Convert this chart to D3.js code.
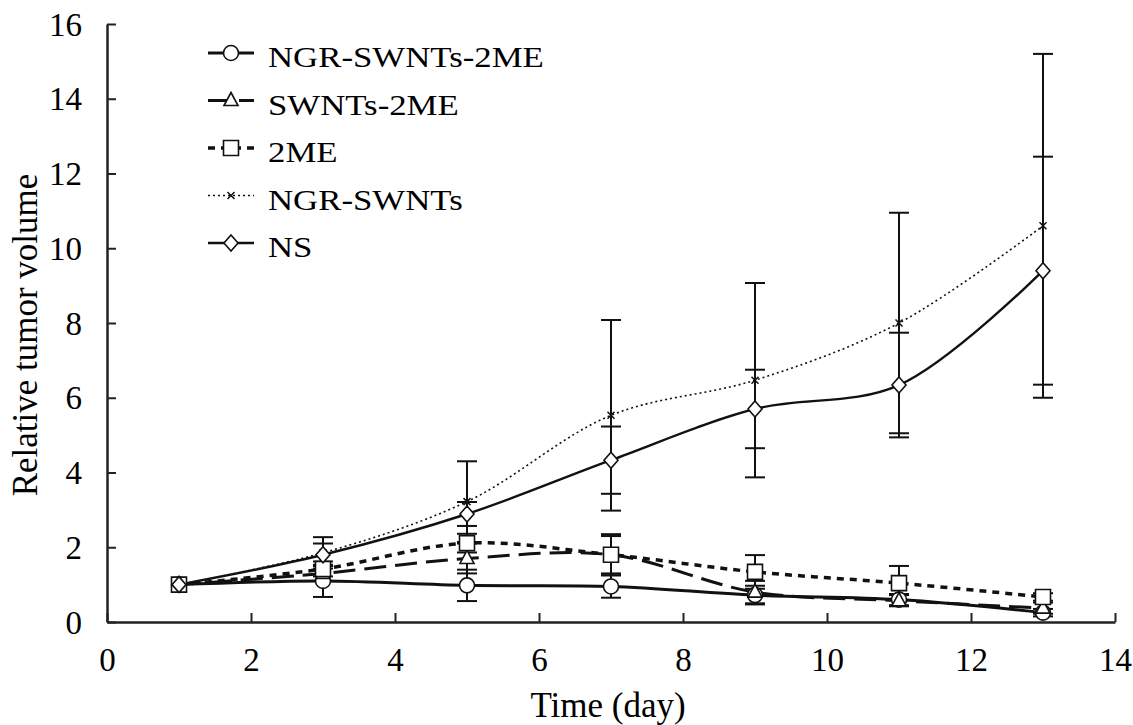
<!DOCTYPE html>
<html>
<head>
<meta charset="utf-8">
<title>Relative tumor volume</title>
<script src="https://d3js.org/d3.v7.min.js"></script>
<style>
  body { margin: 0; background: #fff; }
</style>
</head>
<body>
<div id="chart"></div>
<script>
// data
var days = [1, 3, 5, 7, 9, 11, 13];
var seriesNames = ["NGR-SWNTs-2ME", "SWNTs-2ME", "2ME", "NGR-SWNTs", "NS"];
var ngrSwnts2me = [1.0, 1.1, 0.98, 0.95, 0.72, 0.6, 0.25];
var ngrSwnts2meErr = [0, 0.43, 0.42, 0.3, 0.25, 0.15, 0.1];
var swnts2me = [1.0, 1.3, 1.7, 1.8, 0.8, 0.57, 0.37];
var swnts2meErr = [0, 0.2, 0.4, 0.5, 0.3, 0.15, 0.15];
var me2 = [1.0, 1.42, 2.11, 1.8, 1.34, 1.04, 0.67];
var me2Err = [0, 0.2, 0.25, 0.55, 0.45, 0.46, 0.1];
var ngrSwnts = [1.0, 1.85, 3.22, 5.53, 6.47, 8.0, 10.6];
var ngrSwntsErr = [0, 0.42, 1.08, 2.55, 2.6, 2.95, 4.6];
var ns = [1.0, 1.8, 2.89, 4.33, 5.7, 6.34, 9.4];
var nsErr = [0, 0.3, 0.32, 0.9, 1.05, 1.4, 3.05];
var xTicks = [0, 2, 4, 6, 8, 10, 12, 14];
var yTicks = [0, 2, 4, 6, 8, 10, 12, 14, 16];

var W = 1133, H = 725;
var margin = {top: 24, right: 18, bottom: 103, left: 107};
var width = W - margin.left - margin.right,
    height = H - margin.top - margin.bottom;
var serif = '"Liberation Serif", "Times New Roman", Times, serif';

var svg = d3.select("#chart").append("svg")
    .attr("width", W).attr("height", H);
var g = svg.append("g")
    .attr("transform", "translate(" + margin.left + "," + margin.top + ")");

var x = d3.scaleLinear().domain([0, 14]).range([0, width]);
var y = d3.scaleLinear().domain([0, 16]).range([height, 0]);

// axes, ticks pointing inward
var xAxis = g.append("g")
    .attr("transform", "translate(0," + height + ")")
    .call(d3.axisBottom(x).tickValues(xTicks).tickSizeInner(-9).tickSizeOuter(0));
xAxis.selectAll(".tick text").attr("y", 49).attr("dy", 0);
var yAxis = g.append("g")
    .call(d3.axisLeft(y).tickValues(yTicks).tickSizeInner(-9).tickSizeOuter(0).tickPadding(25));
yAxis.selectAll(".tick text").attr("dy", "0.34em");
[xAxis, yAxis].forEach(function(a) {
  a.attr("font-family", serif);
  a.select(".domain").attr("stroke", "#222").attr("stroke-width", 2.5);
  a.selectAll(".tick line").attr("stroke", "#222").attr("stroke-width", 2);
  a.selectAll(".tick text").style("font-size", "33px").style("font-family", serif).attr("fill", "#000");
});

svg.append("text")
  .attr("x", 608).attr("y", 717)
  .attr("text-anchor", "middle").style("font-size", "35px").style("font-family", serif)
  .text("Time (day)");
svg.append("text")
  .attr("transform", "translate(37,335) rotate(-90)")
  .attr("text-anchor", "middle").style("font-size", "35px").style("font-family", serif)
  .text("Relative tumor volume");

var series = [
  {name: seriesNames[0], v: ngrSwnts2me, e: ngrSwnts2meErr, sym: "circle", dash: null, w: 3},
  {name: seriesNames[1], v: swnts2me, e: swnts2meErr, sym: "triangle", dash: "22,9", w: 3},
  {name: seriesNames[2], v: me2, e: me2Err, sym: "square", dash: "7,6", w: 3.5},
  {name: seriesNames[3], v: ngrSwnts, e: ngrSwntsErr, sym: "x", dash: "2,3", w: 1.6},
  {name: seriesNames[4], v: ns, e: nsErr, sym: "diamond", dash: null, w: 2.4}
];

var line = d3.line()
  .x(function(d) { return x(d[0]); })
  .y(function(d) { return y(d[1]); })
  .curve(d3.curveCatmullRom.alpha(0.5));

// error bars
series.forEach(function(s) {
  var eg = g.append("g");
  days.forEach(function(d, i) {
    if (!s.e[i]) return;
    var cx = x(d), top = y(s.v[i] + s.e[i]), bot = y(Math.max(0, s.v[i] - s.e[i]));
    eg.append("line").attr("x1", cx).attr("x2", cx).attr("y1", top).attr("y2", bot)
      .attr("stroke", "#111").attr("stroke-width", 2);
    [top, bot].forEach(function(yy) {
      eg.append("line").attr("x1", cx - 10).attr("x2", cx + 10).attr("y1", yy).attr("y2", yy)
        .attr("stroke", "#111").attr("stroke-width", 2);
    });
  });
});

function markerPath(sym, cx, cy) {
  if (sym === "circle") return null;
  if (sym === "square") return "M" + (cx - 7.5) + "," + (cy - 7.5) + "h15v15h-15Z";
  if (sym === "triangle") return "M" + cx + "," + (cy - 8) + "L" + (cx + 7) + "," + (cy + 5) + "L" + (cx - 7) + "," + (cy + 5) + "Z";
  if (sym === "diamond") return "M" + cx + "," + (cy - 8) + "L" + (cx + 7) + "," + cy + "L" + cx + "," + (cy + 8) + "L" + (cx - 7) + "," + cy + "Z";
  var r = 3.5;
  return "M" + (cx - r) + "," + (cy - r) + "L" + (cx + r) + "," + (cy + r) +
         "M" + (cx - r) + "," + (cy + r) + "L" + (cx + r) + "," + (cy - r);
}

function drawMarker(sel, s, cx, cy) {
  if (s.sym === "circle") {
    sel.append("circle").attr("cx", cx).attr("cy", cy).attr("r", 7.5)
      .attr("fill", "#fff").attr("stroke", "#111").attr("stroke-width", 1.6);
  } else if (s.sym === "x") {
    sel.append("path").attr("d", markerPath("x", cx, cy))
      .attr("stroke", "#111").attr("stroke-width", 1.5);
  } else {
    sel.append("path").attr("d", markerPath(s.sym, cx, cy))
      .attr("fill", "#fff").attr("stroke", "#111").attr("stroke-width", 1.6);
  }
}

// lines and markers
series.forEach(function(s) {
  var pts = days.map(function(d, i) { return [d, s.v[i]]; });
  g.append("path").datum(pts)
    .attr("fill", "none").attr("stroke", "#111")
    .attr("stroke-width", s.w)
    .attr("stroke-dasharray", s.dash)
    .attr("d", line);
});
series.forEach(function(s) {
  var mg = g.append("g");
  days.forEach(function(d, i) { drawMarker(mg, s, x(d), y(s.v[i])); });
});

// legend (text is drawn a little wider, as in the original)
var legend = svg.append("g").attr("transform", "translate(208,53)");
series.forEach(function(s, i) {
  var row = legend.append("g").attr("transform", "translate(0," + (i * 47.5) + ")");
  row.append("line").attr("x1", 0).attr("x2", 46).attr("y1", 0).attr("y2", 0)
    .attr("stroke", "#111").attr("stroke-width", s.w)
    .attr("stroke-dasharray", s.dash);
  drawMarker(row, s, 23, 0);
  row.append("text")
    .attr("transform", "translate(60,14) scale(1.2,1)")
    .style("font-size", "29px").style("font-family", serif).attr("fill", "#000")
    .text(s.name);
});
</script>
</body>
</html>
